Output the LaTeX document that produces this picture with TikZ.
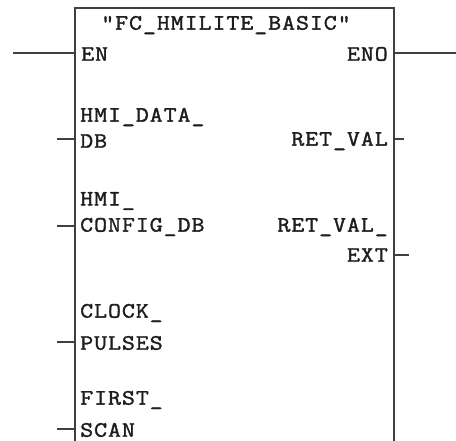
\documentclass[tikz,border=0pt]{standalone}
\usepackage{fontspec}
\newfontfamily\plcfont[FakeStretch=1.15,LetterSpace=4,FakeBold=1.6]{Latin Modern Mono}
\usepackage{xcolor}
\definecolor{fbline}{RGB}{64,64,64}
\definecolor{fbtext}{RGB}{30,30,30}
\usetikzlibrary{positioning}

\begin{document}
\begin{tikzpicture}[x=1pt,y=-1pt,
  lbl/.style={inner sep=0pt,text=fbtext,font=\plcfont\fontsize{22}{24}\selectfont},
  inlbl/.style={lbl,anchor=west},
  outlbl/.style={lbl,anchor=east},
  pin/.style={draw=fbline,line width=1.6pt}]
  \useasboundingbox (0,0) rectangle (456,441);
  % block outline (open at the bottom)
  \coordinate (tl) at (75,8);
  \coordinate (tr) at (394,8);
  \draw[pin] (75,441) -- (tl) -- (tr) -- (394,441);
  % title and labels
  \node[lbl] (title) at (226,25) {"FC\_HMILITE\_BASIC"};
  \node[inlbl] (en) at (81,54) {EN};
  \node[outlbl] (eno) at (388,54) {ENO};
  \node[inlbl] (data1) at (80,117) {HMI\_DATA\_};
  \node[inlbl] (data2) at (80,141) {DB};
  \node[inlbl] (cfg1) at (80,201) {HMI\_};
  \node[inlbl] (cfg2) at (80,227) {CONFIG\_DB};
  \node[outlbl] (ret) at (388,141) {RET\_VAL};
  \node[outlbl] (ext1) at (388,227) {RET\_VAL\_};
  \node[outlbl] (ext2) at (388,255) {EXT};
  \node[inlbl] (clk1) at (80,313) {CLOCK\_};
  \node[inlbl] (clk2) at (80,343) {PULSES};
  \node[inlbl] (scan1) at (80,400) {FIRST\_};
  \node[inlbl] (scan2) at (80,430) {SCAN};
  % pins
  \coordinate (enIn) at (75,53);    \coordinate (enEnd) at (13,53);
  \coordinate (enoOut) at (394,53); \coordinate (enoEnd) at (456,53);
  \coordinate (dbIn) at (75,139);   \coordinate (dbEnd) at (57,139);
  \coordinate (cfgIn) at (75,226);  \coordinate (cfgEnd) at (57,226);
  \coordinate (clkIn) at (75,342);  \coordinate (clkEnd) at (57,342);
  \coordinate (scanIn) at (75,429); \coordinate (scanEnd) at (57,429);
  \coordinate (retOut) at (394,139); \coordinate (retEnd) at (404,139);
  \coordinate (extOut) at (394,255); \coordinate (extEnd) at (409,255);
  \draw[pin] (enEnd) -- (enIn);
  \draw[pin] (enoOut) -- (enoEnd);
  \draw[pin] (dbEnd) -- (dbIn);
  \draw[pin] (cfgEnd) -- (cfgIn);
  \draw[pin] (clkEnd) -- (clkIn);
  \draw[pin] (scanEnd) -- (scanIn);
  \draw[pin] (retOut) -- (retEnd);
  \draw[pin] (extOut) -- (extEnd);
\end{tikzpicture}
\end{document}
